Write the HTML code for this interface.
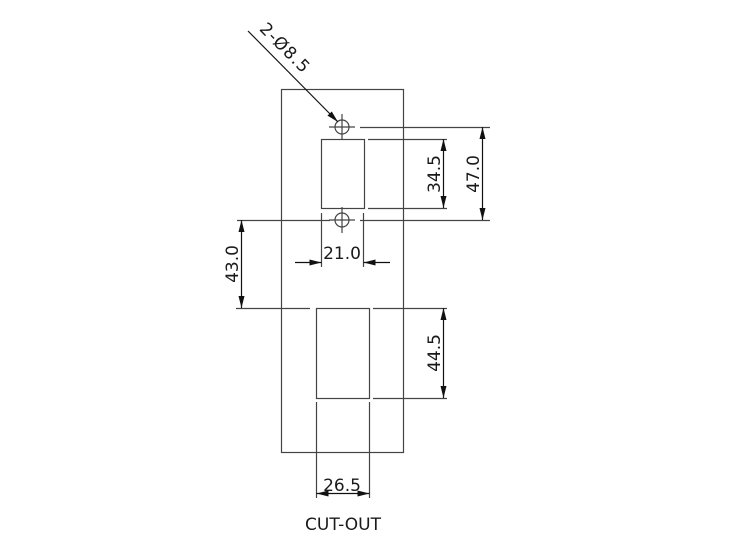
<!DOCTYPE html>
<html><head><style>body{margin:0;background:#fff}svg{display:block}</style></head><body>
<svg width="736" height="552" viewBox="0 0 736 552" xmlns="http://www.w3.org/2000/svg">
<defs>
<marker id="a" viewBox="0 0 12 6" refX="12" refY="3" markerWidth="12" markerHeight="6" orient="auto" markerUnits="userSpaceOnUse"><path d="M0,0L12,3L0,6z" fill="#111"/></marker>
</defs>
<g stroke="#444" stroke-width="1.2" fill="none">
<rect x="281.5" y="89.5" width="122" height="363"/>
<rect x="321.5" y="139.5" width="43" height="69"/>
<rect x="316.5" y="308.5" width="53" height="90"/>
<circle cx="342" cy="127" r="7"/><circle cx="342" cy="220" r="7"/>
<path d="M329,127h26M342,114v26M329,220h26M342,207v26"/>
<path d="M360,127.5H490M237,220.5H330M360,220.5H490M368,139.5H447M368,208.5H447M236,308.5H310M373,308.5H447M373,398.5H447"/>
<path d="M321.5,213V267M363.5,213V267M316.5,402V498M369.5,402V498"/>
</g>
<g stroke="#111" stroke-width="1.2">
<line x1="482.5" y1="175" x2="482.5" y2="127" marker-end="url(#a)"/><line x1="482.5" y1="175" x2="482.5" y2="220" marker-end="url(#a)"/>
<line x1="443.5" y1="174" x2="443.5" y2="139" marker-end="url(#a)"/><line x1="443.5" y1="174" x2="443.5" y2="208" marker-end="url(#a)"/>
<line x1="241.5" y1="264" x2="241.5" y2="220" marker-end="url(#a)"/><line x1="241.5" y1="264" x2="241.5" y2="308" marker-end="url(#a)"/>
<line x1="443.5" y1="353" x2="443.5" y2="308" marker-end="url(#a)"/><line x1="443.5" y1="353" x2="443.5" y2="398" marker-end="url(#a)"/>
<line x1="295" y1="262.5" x2="321.5" y2="262.5" marker-end="url(#a)"/><line x1="390" y1="262.5" x2="363.5" y2="262.5" marker-end="url(#a)"/>
<line x1="342" y1="493.5" x2="316.5" y2="493.5" marker-end="url(#a)"/><line x1="342" y1="493.5" x2="369.5" y2="493.5" marker-end="url(#a)"/>
<line x1="248" y1="31" x2="338" y2="122" marker-end="url(#a)"/>
</g>
<g font-family="DejaVu Sans, Liberation Sans, sans-serif" font-size="17" fill="#1a1a1a" text-anchor="middle">
<text x="342" y="259">21.0</text>
<text x="342" y="491">26.5</text>
<text transform="translate(440,174) rotate(-90)">34.5</text>
<text transform="translate(479,174) rotate(-90)">47.0</text>
<text transform="translate(238,264) rotate(-90)">43.0</text>
<text transform="translate(440,353) rotate(-90)">44.5</text>
<text transform="translate(281,52) rotate(45)" letter-spacing="1">2-Ø8.5</text>
<text x="343" y="530" font-size="17">CUT-OUT</text>
</g>
</svg>
</body></html>
